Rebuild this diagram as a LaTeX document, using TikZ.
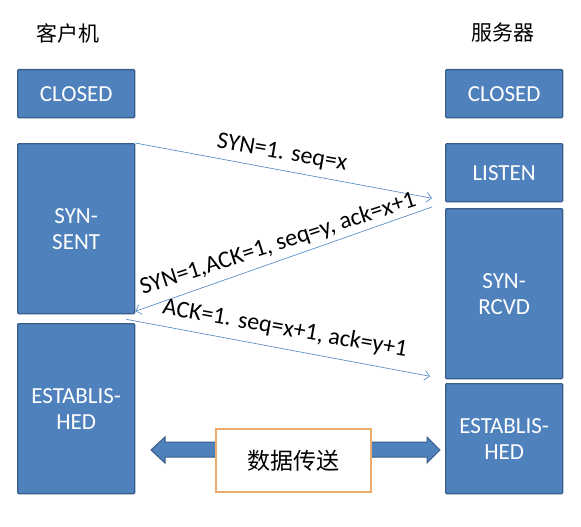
\documentclass[tikz,border=0pt]{standalone}
\usepackage{fontspec}
\setmainfont{Carlito}
\newfontfamily\cjk{Noto Sans CJK SC}
\usetikzlibrary{arrows.meta,calc}
\definecolor{boxblue}{RGB}{79,129,189}
\definecolor{boxedge}{RGB}{56,93,138}
\definecolor{msgline}{RGB}{95,145,198}
\definecolor{dataedge}{RGB}{235,172,105}
\begin{document}
\begin{tikzpicture}[x=1pt,y=-1pt,
  state/.style={draw=boxedge, fill=boxblue, line width=1.3pt, text=white,
    font=\fontsize{23}{26}\selectfont, align=center, inner sep=0pt,
    anchor=north west, minimum width=117pt, rounded corners=1pt},
  msg/.style={draw=msgline, line width=0.7pt, -{Straight Barb[length=5pt,width=10pt]}},
  lbl/.style={font=\fontsize{24}{26}\selectfont, inner sep=0pt},
  title/.style={font=\cjk\fontsize{21}{24}\selectfont, inner sep=0pt},
  blockarrow/.style={draw=boxedge, fill=boxblue, line width=1pt, line join=miter}]
\useasboundingbox (0,0) rectangle (581,527);

% titles
\node[title] (client) at (68,33) {客户机};
\node[title] (server) at (503,33) {服务器};

% client states
\node[state, minimum height=48pt] (cclosed) at (17,69) {CLOSED};
\node[state, minimum height=170pt] (synsent) at (17,143) {SYN-\\SENT};
\node[state, minimum height=170pt] (cestab) at (17,323) {ESTABLIS-\\HED};

% server states
\node[state, minimum height=48pt] (sclosed) at (445,69) {CLOSED};
\node[state, minimum height=58pt] (listen) at (445,143) {LISTEN};
\node[state, minimum height=170pt] (synrcvd) at (445,208) {SYN-\\RCVD};
\node[state, minimum height=110pt] (sestab) at (445,383) {ESTABLIS-\\HED};

% message end points
\coordinate (a1s) at (synsent.north east);
\coordinate (a1e) at ($(listen.south west)+(-13,-4)$);
\coordinate (a2s) at ($(synrcvd.north west)+(-13,-1)$);
\coordinate (a2e) at ($(synsent.south east)+(0,-3)$);
\coordinate (a3s) at ($(synsent.south east)+(-9,5)$);
\coordinate (a3e) at ($(synrcvd.south west)+(-15,-3)$);

\draw[msg] (a1s) -- (a1e);
\draw[msg] (a2s) -- (a2e);
\draw[msg] (a3s) -- (a3e);

\node[lbl, rotate=-10] (l1) at (282,153) {SYN=1. seq=x};
\node[lbl, rotate=18] (l2) at (278,244) {SYN=1,ACK=1, seq=y, ack=x+1};
\node[lbl, rotate=-10] (l3) at (285,329) {ACK=1. seq=x+1, ack=y+1};

% block arrows
\draw[blockarrow] (230,442) -- (165,442) -- (165,437) -- (151,450) -- (165,463) -- (165,457) -- (230,457) -- cycle;
\draw[blockarrow] (360,442) -- (427,442) -- (427,437) -- (440,450) -- (427,463) -- (427,457) -- (360,457) -- cycle;

% data transfer box
\node[draw=dataedge, line width=2pt, fill=white, minimum width=155pt, minimum height=63pt,
  inner sep=0pt, font=\cjk\fontsize{23}{26}\selectfont] (data) at (293.5,460.5) {数据传送};
\end{tikzpicture}
\end{document}
